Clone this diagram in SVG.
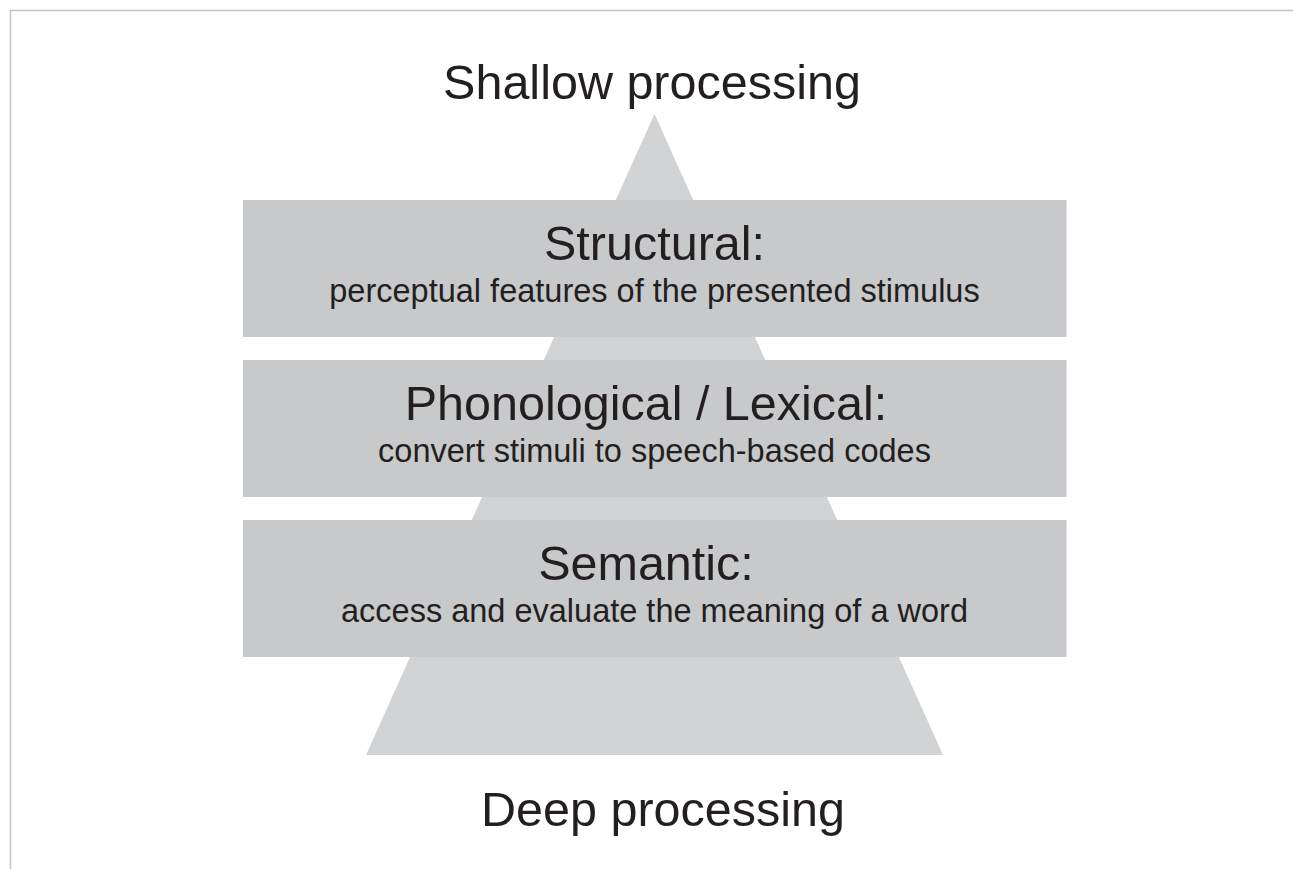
<svg xmlns="http://www.w3.org/2000/svg" width="1293" height="869" viewBox="0 0 1293 869">
  <style>
    .title { font-family: "Liberation Sans", Arial, sans-serif; font-size: 48.5px; fill: #231f20; text-anchor: middle; }
    .head { font-family: "Liberation Sans", Arial, sans-serif; font-size: 48.5px; fill: #231f20; text-anchor: middle; }
    .sub { font-family: "Liberation Sans", Arial, sans-serif; font-size: 32.5px; fill: #231f20; text-anchor: middle; }
    .band { fill: #c8c9cb; }
    .pyr { fill: #d1d3d4; }
  </style>
  <rect x="0" y="0" width="1293" height="869" fill="#ffffff"/>
  <g id="frame">
    <path d="M10.5 869 V10.5 H1293" fill="none" stroke="#c4c4c4" stroke-width="1.5"/>
  </g>
  <g id="pyramid">
    <polygon class="pyr" points="654.5,114 943,755 366,755"/>
  </g>
  <g id="connectors"></g>
  <g id="label-shallow">
    <text class="title" x="652" y="99">Shallow processing</text>
  </g>
  <g id="node-structural">
    <rect class="band" x="243" y="200" width="823.5" height="137"/>
    <text class="head" x="654.5" y="260">Structural:</text>
    <text class="sub" x="654.5" y="302">perceptual features of the presented stimulus</text>
  </g>
  <g id="node-phonological">
    <rect class="band" x="243" y="360" width="823.5" height="137"/>
    <text class="head" x="646" y="420">Phonological / Lexical:</text>
    <text class="sub" x="654.5" y="462">convert stimuli to speech-based codes</text>
  </g>
  <g id="node-semantic">
    <rect class="band" x="243" y="520" width="823.5" height="137"/>
    <text class="head" x="646" y="580">Semantic:</text>
    <text class="sub" x="654.5" y="622">access and evaluate the meaning of a word</text>
  </g>
  <g id="label-deep">
    <text class="title" x="663" y="826">Deep processing</text>
  </g>
</svg>
